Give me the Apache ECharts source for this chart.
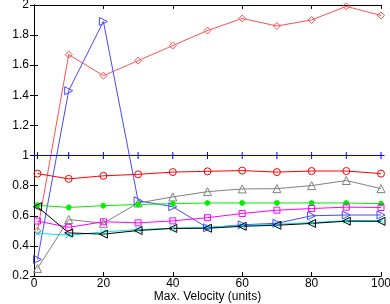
<!DOCTYPE html>
<html>
<head>
<meta charset="utf-8">
<script src="https://cdn.jsdelivr.net/npm/echarts@6/dist/echarts.min.js"></script>
<style>html,body{margin:0;padding:0;background:#fff;}#c{width:390px;height:304px;}</style>
</head>
<body>
<div id="c"></div>
<script>
const xValues = [1, 10, 20, 30, 40, 50, 60, 70, 80, 90, 100];
const redDiamond = [0.50, 1.67, 1.53, 1.63, 1.73, 1.83, 1.91, 1.86, 1.90, 1.99, 1.93];
const blueRightTri = [0.31, 1.43, 1.89, 0.70, 0.66, 0.52, 0.54, 0.55, 0.60, 0.605, 0.605];
const bluePlus = [1, 1, 1, 1, 1, 1, 1, 1, 1, 1, 1];
const redCircle = [0.88, 0.845, 0.865, 0.875, 0.89, 0.895, 0.90, 0.89, 0.897, 0.897, 0.88];
const grayTri = [0.25, 0.575, 0.55, 0.685, 0.725, 0.76, 0.778, 0.78, 0.80, 0.834, 0.78];
const greenStar = [0.67, 0.655, 0.667, 0.675, 0.68, 0.685, 0.685, 0.685, 0.685, 0.685, 0.68];
const magentaSquare = [0.565, 0.523, 0.56, 0.553, 0.566, 0.587, 0.615, 0.637, 0.648, 0.657, 0.655];
const cyanX = [0.484, 0.47, 0.493, 0.508, 0.517, 0.524, 0.535, 0.544, 0.555, 0.568, 0.568];
const blackLeftTri = [0.66, 0.486, 0.478, 0.502, 0.516, 0.517, 0.53, 0.537, 0.549, 0.564, 0.563];
const xTicks = [0, 20, 40, 60, 80, 100];
const yTickLabels = ['0.2','0.4','0.6','0.8','1','1.2','1.4','1.6','1.8','2'];

const plusPath = 'path://M0,5L10,5M5,0L5,10';
const xPath = 'path://M0,0L10,10M10,0L0,10';
const starPath = 'path://M0,5L10,5M5,0L5,10M1.5,1.5L8.5,8.5M8.5,1.5L1.5,8.5';

function pts(arr){ return xValues.map((x,i)=>[x, arr[i]]); }
function mk(name, arr, color, symbol, size, rotate, bw){
  return {
    name, type:'line', data: pts(arr), symbol, symbolSize:size, symbolRotate: rotate||0,
    showAllSymbol:true, animation:false,
    lineStyle:{color, width:1},
    itemStyle:{color:'rgba(255,255,255,0)', borderColor: color, borderWidth: bw || 1},
    emphasis:{disabled:true}
  };
}
const fontFam = '"Liberation Sans", Arial, Helvetica, sans-serif';
const chart = echarts.init(document.getElementById('c'), null, {renderer:'canvas'});
chart.setOption({
  animation:false,
  backgroundColor:'#fff',
  grid:{left:34, right:9, top:4.9, bottom:28, containLabel:false, outerBoundsMode:'none'},
  xAxis:[{
    type:'value', min:0, max:100, interval:20,
    name:'Max. Velocity (units)', nameLocation:'middle', nameGap:15, nameMoveOverlap:false,
    nameTextStyle:{color:'#000', fontSize:12, fontFamily:fontFam, verticalAlign:'top'},
    axisLine:{show:true, lineStyle:{color:'#000', width:1}},
    axisTick:{show:true, inside:true, length:4, lineStyle:{color:'#000'}},
    axisLabel:{color:'#000', fontSize:12, fontFamily:fontFam, margin:2, hideOverlap:false,
      formatter:v=> xTicks.includes(v) ? String(v) : ''},
    splitLine:{show:false}
  },{
    type:'value', min:0, max:100, interval:20, position:'top',
    axisLine:{show:true, lineStyle:{color:'#000', width:1}},
    axisTick:{show:true, inside:true, length:4, lineStyle:{color:'#000'}},
    axisLabel:{show:false}, splitLine:{show:false}
  }],
  yAxis:[{
    type:'value', min:0.2, max:2, interval:0.2,
    name:'Ratio Time/FMM Time', nameLocation:'middle', nameGap:35, nameRotate:90, nameMoveOverlap:false,
    nameTextStyle:{color:'#000', fontSize:12, fontFamily:fontFam},
    axisLine:{show:true, lineStyle:{color:'#000', width:1}},
    axisTick:{show:true, inside:true, length:4, lineStyle:{color:'#000'}},
    axisLabel:{color:'#000', fontSize:12, fontFamily:fontFam, margin:5, hideOverlap:false,
      formatter:v=>{ const i = Math.round((v-0.2)/0.2); return yTickLabels[i] || ''; }},
    splitLine:{show:false}
  },{
    type:'value', min:0.2, max:2, interval:0.2, position:'right',
    axisLine:{show:true, lineStyle:{color:'#000', width:1}},
    axisTick:{show:true, inside:true, length:4, lineStyle:{color:'#000'}},
    axisLabel:{show:false}, splitLine:{show:false}
  }],
  series:[
    mk('redDiamond', redDiamond, '#ff5050', 'diamond', 7),
    mk('blueRightTri', blueRightTri, '#4848ff', 'triangle', 8, -90),
    mk('bluePlus', bluePlus, '#0000ff', plusPath, 7),
    mk('redCircle', redCircle, '#ff0000', 'circle', 7),
    mk('grayTri', grayTri, '#808080', 'triangle', 8),
    mk('greenStar', greenStar, '#00ee00', starPath, 6, 0, 1.5),
    mk('magentaSquare', magentaSquare, '#ff00ff', 'rect', 6),
    mk('cyanX', cyanX, '#00e8e8', xPath, 6),
    mk('blackLeftTri', blackLeftTri, '#000000', 'triangle', 8, 90)
  ]
});
</script>
</body>
</html>
